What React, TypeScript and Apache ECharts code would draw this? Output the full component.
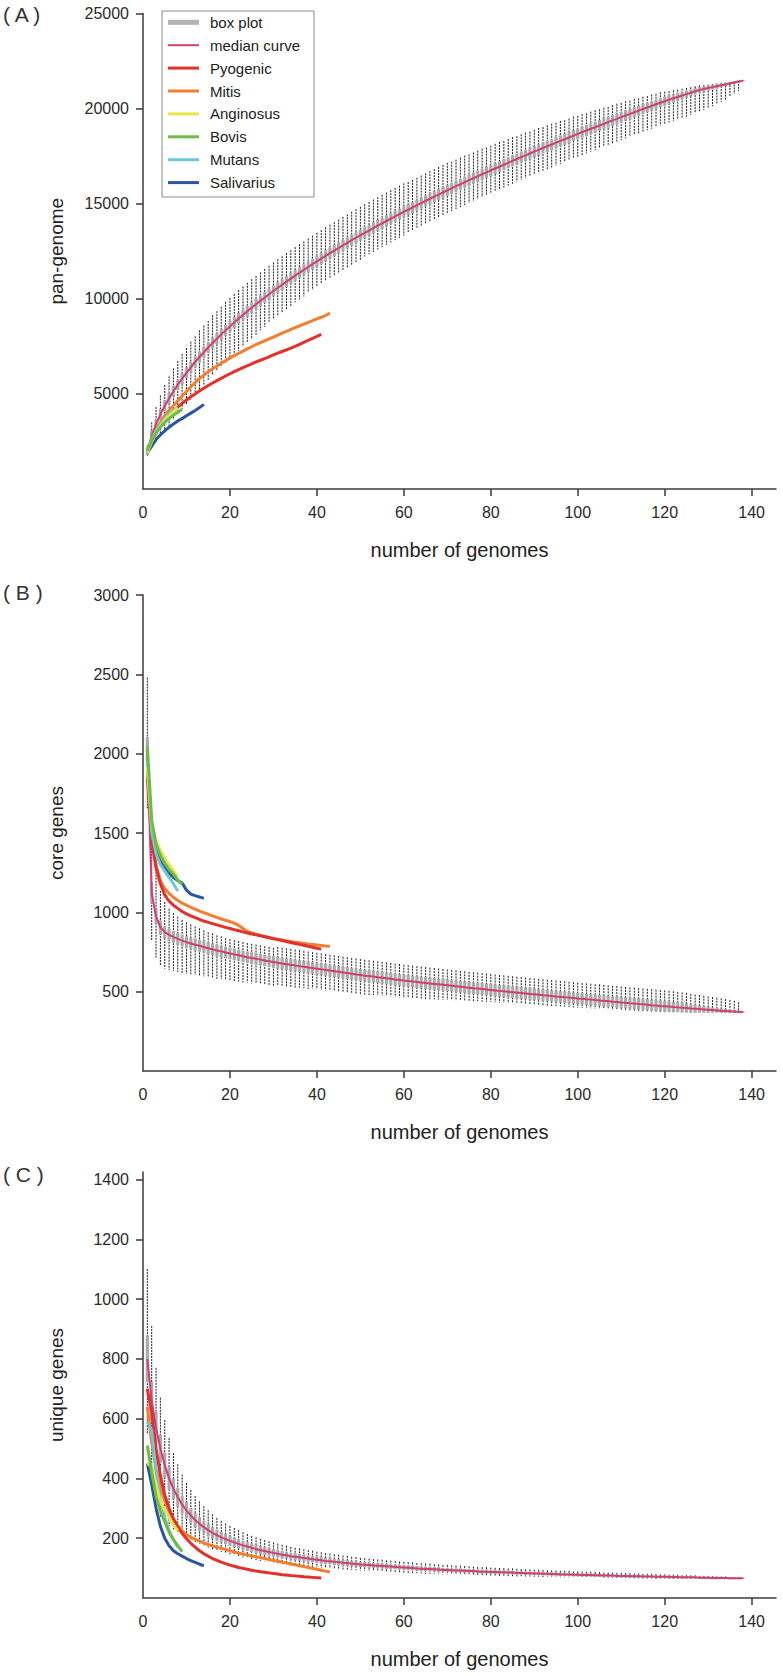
import React, { useEffect, useRef } from "react";
import * as echarts from "echarts";

const FONT = "'Liberation Sans', Arial, Helvetica, sans-serif";

// ---------- tick values ----------
const xLabelTicks = [0, 20, 40, 60, 80, 100, 120, 140];
const xMarkTicks = [20, 40, 60, 80, 100, 120, 140];
const aTicks = [5000, 10000, 15000, 20000, 25000];
const bTicks = [500, 1000, 1500, 2000, 2500, 3000];
const cTicks = [200, 400, 600, 800, 1000, 1200, 1400];

const seriesNames = ["box plot", "median curve", "Pyogenic", "Mitis", "Anginosus", "Bovis", "Mutans", "Salivarius"];
const seriesColors = ["#b3b3b3", "#d23c77", "#e4302a", "#f47e30", "#e6e64b", "#6cbd45", "#6dc8d5", "#2a55a0"];
// drawing order of the six group curves (higher drawn on top)
const groupZ = [6, 5, 8, 9, 7, 4];

// ---------- (A) pan-genome: box stats for n = 1..138 ----------
const aMed = [
  2000, 2800, 3410, 3920, 4370, 4770, 5140, 5480, 5810, 6110,
  6400, 6680, 6940, 7190, 7440, 7680, 7900, 8130, 8340, 8550,
  8760, 8960, 9150, 9340, 9530, 9710, 9890, 10070, 10240, 10410,
  10580, 10740, 10900, 11060, 11220, 11370, 11520, 11670, 11820, 11970,
  12110, 12260, 12400, 12530, 12670, 12810, 12940, 13080, 13210, 13340,
  13470, 13590, 13720, 13850, 13970, 14090, 14210, 14330, 14450, 14570,
  14690, 14800, 14920, 15030, 15150, 15260, 15370, 15480, 15590, 15700,
  15810, 15920, 16020, 16130, 16240, 16340, 16440, 16550, 16650, 16750,
  16850, 16950, 17050, 17150, 17250, 17350, 17450, 17540, 17640, 17740,
  17830, 17930, 18020, 18110, 18210, 18300, 18390, 18480, 18580, 18670,
  18760, 18850, 18940, 19020, 19110, 19200, 19290, 19380, 19460, 19550,
  19640, 19720, 19810, 19890, 19980, 20060, 20140, 20230, 20310, 20390,
  20470, 20540, 20610, 20690, 20760, 20830, 20910, 20980, 21030, 21080,
  21130, 21180, 21230, 21270, 21320, 21370, 21420, 21470,
];
const aHi = [
  300, 700, 900, 1000, 1100, 1150, 1200, 1250, 1300, 1300,
  1350, 1350, 1400, 1400, 1400, 1450, 1450, 1450, 1500, 1500,
  1500, 1500, 1500, 1500, 1500, 1500, 1500, 1500, 1500, 1500,
  1500, 1500, 1500, 1500, 1500, 1500, 1500, 1500, 1500, 1500,
  1500, 1500, 1500, 1500, 1500, 1500, 1500, 1500, 1500, 1500,
  1500, 1500, 1500, 1500, 1500, 1500, 1500, 1500, 1500, 1500,
  1450, 1450, 1450, 1450, 1450, 1450, 1450, 1450, 1450, 1450,
  1400, 1400, 1400, 1400, 1350, 1350, 1350, 1350, 1300, 1300,
  1300, 1300, 1250, 1250, 1250, 1200, 1200, 1200, 1150, 1150,
  1150, 1100, 1100, 1100, 1050, 1050, 1000, 1000, 1000, 950,
  950, 900, 900, 900, 850, 850, 800, 800, 800, 750,
  750, 700, 700, 650, 650, 600, 600, 550, 550, 500,
  450, 420, 390, 360, 330, 300, 270, 240, 210, 180,
  160, 140, 120, 100, 80, 60, 40, 0,
];
const aLo = [
  250, 700, 1000, 1200, 1350, 1450, 1500, 1550, 1600, 1650,
  1700, 1700, 1700, 1700, 1700, 1700, 1700, 1700, 1700, 1700,
  1700, 1700, 1650, 1650, 1600, 1600, 1550, 1550, 1500, 1500,
  1500, 1450, 1450, 1450, 1400, 1400, 1400, 1350, 1350, 1350,
  1300, 1300, 1300, 1300, 1300, 1300, 1300, 1300, 1300, 1300,
  1250, 1250, 1250, 1250, 1250, 1250, 1250, 1250, 1250, 1250,
  1200, 1200, 1200, 1200, 1200, 1200, 1200, 1200, 1200, 1200,
  1200, 1200, 1200, 1200, 1200, 1200, 1200, 1200, 1200, 1200,
  1200, 1200, 1200, 1200, 1200, 1200, 1200, 1200, 1200, 1200,
  1200, 1200, 1200, 1200, 1200, 1200, 1200, 1200, 1200, 1200,
  1200, 1200, 1200, 1200, 1200, 1200, 1200, 1200, 1200, 1200,
  1200, 1200, 1200, 1200, 1200, 1200, 1200, 1200, 1200, 1200,
  1200, 1200, 1200, 1200, 1180, 1160, 1140, 1120, 1100, 1060,
  1000, 950, 880, 800, 700, 600, 500, 0,
];
const aBox = [
  150, 250, 250, 250, 250, 250, 250, 250, 250, 250,
  250, 250, 250, 250, 250, 250, 250, 250, 250, 250,
  250, 250, 250, 250, 250, 250, 250, 250, 250, 250,
  250, 250, 250, 250, 250, 250, 250, 250, 250, 250,
  250, 250, 250, 250, 250, 250, 250, 250, 250, 250,
  250, 250, 250, 250, 250, 250, 250, 250, 250, 250,
  250, 250, 250, 250, 250, 250, 250, 250, 250, 250,
  250, 250, 250, 250, 250, 250, 250, 250, 250, 250,
  250, 250, 250, 250, 250, 250, 250, 250, 250, 250,
  250, 250, 250, 250, 250, 250, 250, 250, 250, 250,
  250, 250, 250, 250, 250, 250, 250, 250, 250, 250,
  240, 230, 230, 220, 220, 210, 210, 200, 200, 200,
  190, 180, 170, 160, 150, 140, 130, 120, 110, 100,
  90, 80, 70, 60, 50, 40, 20, 0,
];
const aPyogenic = [
  1950, 2550, 2950, 3300, 3600, 3850, 4100, 4300, 4500, 4680,
  4850, 5000, 5160, 5300, 5440, 5570, 5700, 5820, 5940, 6060,
  6170, 6280, 6380, 6480, 6580, 6680, 6770, 6860, 6950, 7050,
  7140, 7230, 7320, 7410, 7500, 7600, 7710, 7820, 7920, 8020, 8130,
];
const aMitis = [
  2000, 2650, 3100, 3500, 3850, 4150, 4380, 4640, 4890, 5130,
  5360, 5590, 5810, 5990, 6160, 6320, 6470, 6610, 6750, 6880,
  7010, 7130, 7250, 7370, 7480, 7590, 7690, 7790, 7890, 7990,
  8090, 8190, 8290, 8390, 8480, 8570, 8670, 8760, 8850, 8940, 9030, 9120, 9250,
];
const aAnginosus = [1900, 2500, 2950, 3300, 3600, 3850, 4050, 4250];
const aBovis = [2000, 2550, 2950, 3250, 3500, 3700, 3880, 4030, 4180];
const aMutans = [1950, 2600, 3050, 3400, 3700, 3950, 4150, 4300];
const aSalivarius = [1900, 2250, 2600, 2850, 3050, 3250, 3420, 3580, 3700, 3850, 3990, 4130, 4280, 4450];

// ---------- (B) core genes ----------
const bMed = [
  2030, 1120, 975, 905, 875, 858, 845, 833, 822, 812,
  804, 796, 789, 781, 774, 767, 760, 754, 747, 741,
  735, 729, 723, 717, 712, 707, 702, 697, 692, 687,
  682, 677, 673, 669, 665, 661, 657, 653, 649, 645,
  641, 637, 633, 629, 625, 621, 617, 613, 609, 605,
  601, 598, 595, 591, 588, 584, 581, 577, 574, 570,
  567, 564, 561, 558, 555, 552, 549, 546, 543, 540,
  537, 534, 531, 528, 525, 522, 520, 517, 514, 511,
  508, 505, 503, 500, 497, 494, 492, 489, 486, 484,
  481, 478, 476, 473, 470, 468, 465, 463, 460, 457,
  455, 452, 450, 447, 445, 442, 440, 437, 435, 432,
  430, 427, 425, 422, 420, 418, 415, 413, 410, 408,
  406, 403, 401, 399, 397, 394, 392, 390, 388, 386,
  384, 382, 380, 378, 376, 375, 373, 372,
];
const bHi = [
  450, 380, 300, 230, 190, 165, 150, 140, 130, 125,
  120, 115, 110, 105, 100, 100, 95, 95, 90, 90,
  90, 90, 90, 90, 90, 90, 90, 90, 90, 90,
  100, 100, 100, 100, 100, 100, 100, 100, 100, 100,
  100, 100, 100, 100, 100, 100, 100, 100, 100, 100,
  100, 100, 100, 100, 100, 100, 100, 100, 100, 100,
  100, 100, 100, 100, 100, 100, 100, 100, 100, 100,
  100, 100, 100, 100, 100, 100, 100, 100, 100, 100,
  100, 100, 100, 100, 100, 100, 100, 100, 100, 100,
  100, 100, 100, 100, 100, 100, 100, 100, 100, 100,
  100, 100, 100, 100, 100, 100, 100, 100, 100, 100,
  100, 100, 100, 100, 100, 100, 100, 100, 100, 100,
  100, 100, 98, 96, 94, 92, 90, 88, 86, 84,
  82, 80, 78, 75, 72, 68, 60, 0,
];
const bLo = [
  380, 300, 260, 240, 230, 220, 215, 210, 205, 200,
  195, 190, 190, 185, 185, 180, 180, 175, 175, 170,
  170, 165, 165, 160, 160, 155, 155, 150, 150, 150,
  145, 145, 140, 140, 140, 135, 135, 135, 130, 130,
  130, 130, 125, 125, 125, 125, 120, 120, 120, 120,
  120, 118, 116, 114, 112, 110, 110, 110, 110, 110,
  108, 106, 104, 102, 100, 100, 98, 96, 94, 92,
  90, 90, 88, 86, 84, 82, 80, 80, 78, 76,
  75, 74, 73, 72, 71, 70, 70, 69, 68, 67,
  66, 65, 64, 63, 62, 61, 60, 60, 59, 58,
  57, 56, 55, 54, 53, 52, 51, 50, 49, 48,
  47, 46, 45, 44, 43, 42, 41, 40, 39, 38,
  36, 34, 32, 30, 28, 26, 24, 22, 20, 18,
  16, 14, 12, 10, 8, 6, 4, 0,
];
const bBox = [
  70, 60, 45, 40, 35, 32, 32, 32, 32, 32,
  32, 32, 32, 32, 32, 32, 32, 32, 32, 32,
  32, 32, 32, 32, 32, 32, 32, 32, 32, 32,
  32, 32, 32, 32, 32, 32, 32, 32, 32, 32,
  32, 32, 32, 32, 32, 32, 32, 32, 32, 32,
  32, 32, 32, 32, 32, 32, 32, 32, 32, 32,
  32, 32, 32, 32, 32, 32, 32, 32, 32, 32,
  32, 32, 32, 32, 32, 32, 32, 32, 32, 32,
  32, 32, 32, 32, 32, 32, 32, 32, 32, 32,
  30, 30, 30, 30, 30, 30, 30, 30, 30, 30,
  30, 30, 30, 30, 30, 30, 30, 30, 30, 30,
  30, 30, 30, 30, 30, 30, 30, 30, 30, 30,
  28, 27, 26, 25, 24, 22, 20, 18, 16, 14,
  12, 10, 9, 8, 7, 6, 4, 0,
];
const bPyogenic = [
  1850, 1450, 1280, 1180, 1110, 1070, 1045, 1025, 1005, 990,
  978, 966, 955, 945, 937, 929, 921, 913, 905, 898,
  891, 884, 877, 870, 864, 858, 852, 846, 840, 834,
  828, 822, 816, 810, 804, 798, 792, 786, 780, 774, 768,
];
const bMitis = [
  1900, 1500, 1300, 1200, 1150, 1120, 1095, 1075, 1058, 1045,
  1032, 1020, 1008, 998, 988, 978, 968, 958, 950, 942,
  932, 918, 898, 880, 870, 862, 855, 848, 842, 836,
  831, 826, 821, 816, 812, 808, 804, 800, 797, 794, 791, 788, 786,
];
const bAnginosus = [1920, 1560, 1450, 1390, 1340, 1300, 1262, 1225];
const bBovis = [2050, 1580, 1430, 1360, 1310, 1270, 1240, 1205, 1175];
const bMutans = [1950, 1500, 1370, 1300, 1260, 1220, 1180, 1135];
const bSalivarius = [1950, 1520, 1390, 1320, 1280, 1245, 1220, 1200, 1185, 1140, 1115, 1105, 1097, 1088];

// ---------- (C) unique genes ----------
const cMed = [
  800, 660, 570, 500, 445, 400, 365, 337, 313, 293,
  276, 261, 248, 237, 227, 218, 210, 203, 197, 191,
  186, 181, 176, 172, 168, 164, 160, 157, 154, 151,
  148, 145, 143, 140, 138, 136, 134, 132, 130, 128,
  126, 124, 123, 121, 120, 118, 117, 115, 114, 112,
  111, 110, 109, 108, 107, 106, 105, 104, 103, 102,
  101, 100, 99, 98, 97, 97, 96, 95, 94, 94,
  93, 92, 92, 91, 90, 90, 89, 88, 88, 87,
  87, 86, 86, 85, 85, 84, 84, 83, 83, 82,
  82, 81, 81, 80, 80, 79, 79, 79, 78, 78,
  77, 77, 77, 76, 76, 75, 75, 75, 74, 74,
  74, 73, 73, 73, 72, 72, 72, 71, 71, 71,
  70, 70, 70, 69, 69, 69, 69, 68, 68, 68,
  67, 67, 67, 67, 66, 66, 66, 66,
];
const cHi = [
  300, 250, 200, 170, 150, 135, 120, 110, 100, 92,
  85, 80, 75, 70, 66, 62, 58, 55, 52, 50,
  48, 46, 44, 42, 40, 39, 38, 37, 36, 35,
  34, 33, 32, 31, 30, 30, 29, 28, 28, 27,
  27, 26, 26, 25, 25, 24, 24, 23, 23, 22,
  22, 22, 21, 21, 21, 20, 20, 20, 19, 19,
  19, 19, 18, 18, 18, 18, 17, 17, 17, 17,
  16, 16, 16, 16, 16, 15, 15, 15, 15, 15,
  14, 14, 14, 14, 14, 14, 13, 13, 13, 13,
  13, 13, 12, 12, 12, 12, 12, 12, 11, 11,
  11, 11, 11, 11, 11, 10, 10, 10, 10, 10,
  10, 10, 9, 9, 9, 9, 9, 9, 8, 8,
  8, 8, 8, 7, 7, 7, 7, 6, 6, 6,
  6, 5, 5, 5, 4, 4, 3, 0,
];
const cLo = [
  250, 300, 280, 230, 190, 160, 135, 115, 100, 88,
  80, 73, 67, 62, 58, 55, 52, 49, 47, 45,
  43, 41, 40, 39, 38, 37, 36, 35, 34, 33,
  32, 31, 30, 29, 28, 28, 27, 26, 26, 25,
  25, 24, 24, 23, 23, 22, 22, 21, 21, 20,
  20, 20, 19, 19, 19, 18, 18, 18, 17, 17,
  17, 17, 16, 16, 16, 16, 15, 15, 15, 15,
  14, 14, 14, 14, 14, 13, 13, 13, 13, 13,
  12, 12, 12, 12, 12, 12, 11, 11, 11, 11,
  11, 11, 10, 10, 10, 10, 10, 10, 9, 9,
  9, 9, 9, 9, 9, 8, 8, 8, 8, 8,
  8, 8, 7, 7, 7, 7, 7, 7, 6, 6,
  6, 6, 6, 5, 5, 5, 5, 4, 4, 4,
  4, 3, 3, 3, 2, 2, 1, 0,
];
const cBox = [
  75, 60, 50, 44, 39, 35, 32, 29, 27, 25,
  23, 21, 20, 19, 18, 17, 16, 15, 14, 14,
  13, 13, 12, 12, 12, 11, 11, 11, 10, 10,
  10, 10, 9, 9, 9, 9, 9, 8, 8, 8,
  8, 8, 8, 7, 7, 7, 7, 7, 7, 6,
  6, 6, 6, 6, 6, 6, 6, 5, 5, 5,
  5, 5, 5, 5, 5, 5, 5, 5, 4, 4,
  4, 4, 4, 4, 4, 4, 4, 4, 4, 4,
  4, 4, 4, 4, 3, 3, 3, 3, 3, 3,
  3, 3, 3, 3, 3, 3, 3, 3, 3, 3,
  3, 3, 3, 3, 3, 3, 3, 3, 2, 2,
  2, 2, 2, 2, 2, 2, 2, 2, 2, 2,
  2, 2, 2, 2, 2, 2, 2, 2, 2, 2,
  2, 2, 1, 1, 1, 1, 1, 0,
];
const cPyogenic = [
  700, 620, 500, 410, 345, 300, 265, 238, 216, 198,
  183, 170, 158, 148, 140, 132, 126, 120, 115, 110,
  106, 102, 99, 96, 93, 90, 88, 86, 84, 82,
  80, 78, 77, 75, 74, 73, 71, 70, 69, 68, 67,
];
const cMitis = [
  640, 520, 430, 370, 325, 290, 263, 242, 225, 212,
  203, 196, 190, 184, 179, 174, 170, 166, 162, 158,
  154, 150, 147, 144, 141, 138, 135, 132, 129, 126,
  123, 120, 117, 114, 111, 108, 105, 102, 99, 96, 93, 90, 87,
];
const cAnginosus = [450, 440, 380, 320, 295, 270, 245, 225];
const cBovis = [510, 420, 340, 290, 255, 220, 195, 175, 155];
const cMutans = [590, 560, 420, 330, 270, 225, 195, 170];
const cSalivarius = [450, 380, 300, 240, 200, 175, 158, 148, 140, 132, 125, 119, 113, 108];

// ---------- layout ----------
const GRIDS = [
  { left: 143, top: 13.5, width: 633, height: 475.5 },
  { left: 143, top: 595, width: 633, height: 476 },
  { left: 143, top: 1172, width: 633, height: 426 },
];
const X_MAX = 145.6;

const renderBox = (params: any, api: any) => {
  const n = api.value(0);
  const pLo = api.coord([n, api.value(1)]);
  const pQ1 = api.coord([n, api.value(2)]);
  const pQ3 = api.coord([n, api.value(4)]);
  const pHi = api.coord([n, api.value(5)]);
  const x = pLo[0];
  return {
    type: "group",
    children: [
      {
        type: "line",
        shape: { x1: x, y1: pHi[1], x2: x, y2: pLo[1] },
        style: { stroke: "#1e1e1e", lineWidth: 1, lineDash: [2, 1] },
      },
      {
        type: "rect",
        shape: { x: x - 1.6, y: pQ3[1] - 0.8, width: 3.2, height: Math.max(1.6, pQ1[1] - pQ3[1] + 1.6) },
        style: { fill: "#ababab" },
      },
    ],
  };
};

function panelSeries(idx: number, med: number[], lo: number[], hi: number[], box: number[], groups: number[][]) {
  const boxData = med.map((m, k) => [k + 1, m - lo[k], m - box[k], m, m + box[k], m + hi[k]]);
  const out: any[] = [
    {
      type: "custom",
      name: seriesNames[0],
      xAxisIndex: idx,
      yAxisIndex: idx,
      renderItem: renderBox,
      data: boxData,
      encode: { x: 0, y: [1, 2, 3, 4, 5] },
      itemStyle: { color: seriesColors[0] },
      silent: true,
      z: 1,
    },
    {
      type: "line",
      name: seriesNames[1],
      xAxisIndex: idx,
      yAxisIndex: idx,
      data: med.map((v, k) => [k + 1, v]),
      symbol: "none",
      lineStyle: { color: seriesColors[1], width: 2 },
      itemStyle: { color: seriesColors[1] },
      z: 3,
    },
  ];
  groups.forEach((g, j) => {
    out.push({
      type: "line",
      name: seriesNames[j + 2],
      xAxisIndex: idx,
      yAxisIndex: idx,
      data: g.map((v, k) => [k + 1, v]),
      symbol: "none",
      lineStyle: { color: seriesColors[j + 2], width: 3 },
      itemStyle: { color: seriesColors[j + 2] },
      z: groupZ[j],
    });
  });
  return out;
}

const plain = (v: number) => String(v);

function xAxisFor(idx: number) {
  return {
    type: "value",
    gridIndex: idx,
    min: 0,
    max: X_MAX,
    name: "number of genomes",
    nameLocation: "middle",
    nameGap: 51,
    nameTextStyle: { fontSize: 20, color: "#222", fontFamily: FONT },
    axisLine: { show: true, lineStyle: { color: "#3a3a3a", width: 1.5 } },
    axisTick: { show: true, length: 7, customValues: xMarkTicks, lineStyle: { color: "#3a3a3a", width: 1.5 } },
    axisLabel: { customValues: xLabelTicks, formatter: plain, fontSize: 16, color: "#2a2a2a", fontFamily: FONT, margin: 15 },
    splitLine: { show: false },
  };
}

function yAxisFor(idx: number, max: number, ticks: number[], name: string) {
  return {
    type: "value",
    gridIndex: idx,
    min: 0,
    max,
    name,
    nameLocation: "middle",
    nameGap: 77,
    nameTextStyle: { fontSize: 19, color: "#222", fontFamily: FONT },
    axisLine: { show: true, lineStyle: { color: "#3a3a3a", width: 1.5 } },
    axisTick: { show: true, length: 7, customValues: ticks, lineStyle: { color: "#3a3a3a", width: 1.5 } },
    axisLabel: { customValues: ticks, formatter: plain, fontSize: 16, color: "#2a2a2a", fontFamily: FONT, margin: 14 },
    splitLine: { show: false },
  };
}

function legendGraphic() {
  const children: any[] = [
    { type: "rect", shape: { x: 0, y: 0, width: 152, height: 186 }, style: { fill: "#ffffff", stroke: "#8a8a8a", lineWidth: 1 } },
  ];
  seriesNames.forEach((name, i) => {
    const y = 11.3 + i * 22.9;
    children.push({
      type: "line",
      shape: { x1: 6, y1: y, x2: 37, y2: y },
      style: { stroke: seriesColors[i], lineWidth: i === 0 ? 5 : i === 1 ? 2 : 3 },
    });
    children.push({
      type: "text",
      x: 48,
      y,
      style: { text: name, fontSize: 15, fontFamily: FONT, fill: "#222", align: "left", verticalAlign: "middle" },
    });
  });
  return [{ type: "group", x: 162, y: 11, z: 100, children }];
}

export default function App() {
  const ref = useRef<HTMLDivElement>(null);
  useEffect(() => {
    if (!ref.current) return;
    const chart = echarts.init(ref.current, undefined, { renderer: "svg" });
    const titleStyle = { fontSize: 21, fontWeight: "normal" as const, color: "#333", fontFamily: FONT };
    chart.setOption({
      animation: false,
      backgroundColor: "#ffffff",
      title: [
        { text: "( A )", left: 3, top: 4, padding: 0, textStyle: titleStyle },
        { text: "( B )", left: 3, top: 582, padding: 0, textStyle: titleStyle },
        { text: "( C )", left: 3, top: 1164, padding: 0, textStyle: titleStyle },
      ],
      grid: GRIDS.map((g) => ({ ...g, containLabel: false })),
      xAxis: [xAxisFor(0), xAxisFor(1), xAxisFor(2)],
      yAxis: [
        yAxisFor(0, 25000, aTicks, "pan-genome"),
        yAxisFor(1, 3000, bTicks, "core genes"),
        yAxisFor(2, 1425, cTicks, "unique genes"),
      ],
      graphic: legendGraphic(),
      series: [
        ...panelSeries(0, aMed, aLo, aHi, aBox, [aPyogenic, aMitis, aAnginosus, aBovis, aMutans, aSalivarius]),
        ...panelSeries(1, bMed, bLo, bHi, bBox, [bPyogenic, bMitis, bAnginosus, bBovis, bMutans, bSalivarius]),
        ...panelSeries(2, cMed, cLo, cHi, cBox, [cPyogenic, cMitis, cAnginosus, cBovis, cMutans, cSalivarius]),
      ],
    });
    return () => chart.dispose();
  }, []);
  return <div ref={ref} style={{ position: "absolute", left: 0, top: 0, width: 783, height: 1676 }} />;
}
